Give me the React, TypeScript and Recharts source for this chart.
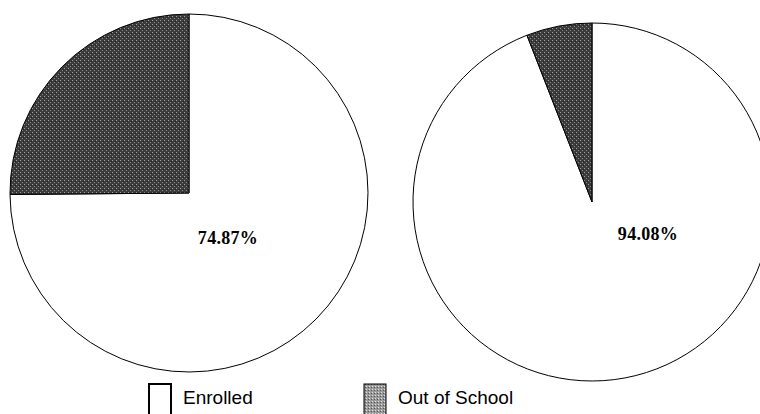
import React from 'react';
import { PieChart, Pie, Cell, Legend } from 'recharts';

const categories = ['Enrolled', 'Out of School'];
const leftValues = [74.87, 25.13];
const rightValues = [94.08, 5.92];

const leftData = categories.map((name, i) => ({ name, value: leftValues[i] }));
const rightData = categories.map((name, i) => ({ name, value: rightValues[i] }));

const fills = ['#ffffff', 'url(#grain)'];

const makeLabel = (dx: number, dy: number) => (props: any) => {
  if (props.index !== 0) return null;
  return (
    <text
      x={props.cx + dx}
      y={props.cy + dy}
      textAnchor="middle"
      dominantBaseline="central"
      fontFamily="'Liberation Serif', 'Times New Roman', serif"
      fontWeight="bold"
      fontSize={18}
      letterSpacing={0.3}
      fill="#000"
    >
      {props.value.toFixed(2)}%
    </text>
  );
};

const LegendBox = () => (
  <div style={{ position: 'relative', width: 760, height: 40, fontFamily: "'Liberation Sans', Arial, sans-serif", fontSize: 19 }}>
    {categories.map((name, i) => (
      <div key={name} style={{ position: 'absolute', left: i === 0 ? 148 : 363, top: 0, display: 'flex' }}>
        <svg width={26} height={40}>
          <rect x={1} y={1} width={22} height={38} fill={i === 0 ? '#fff' : 'url(#grainLight)'} stroke="#000" strokeWidth={i === 0 ? 2 : 1} />
        </svg>
        <span style={{ marginLeft: 9, marginTop: 4 }}>{name}</span>
      </div>
    ))}
  </div>
);

export default function App() {
  return (
    <div style={{ position: 'absolute', left: 0, top: 0, width: 760, height: 414, overflow: 'hidden', background: '#fff' }}>
      <PieChart width={760} height={414} margin={{ top: 0, right: 0, bottom: 0, left: 0 }}>
        <defs>
          <pattern id="grain" width={4} height={4} patternUnits="userSpaceOnUse">
            <rect width={4} height={4} fill="#3c3c3c" />
            <rect x={0} y={0} width={1} height={1} fill="#a0a0a0" />
            <rect x={2} y={2} width={1} height={1} fill="#8a8a8a" />
            <rect x={3} y={1} width={1} height={1} fill="#222" />
          </pattern>
          <pattern id="grainLight" width={3} height={3} patternUnits="userSpaceOnUse">
            <rect width={3} height={3} fill="#9a9a9a" />
            <rect x={0} y={0} width={1} height={1} fill="#e0e0e0" />
            <rect x={2} y={1} width={1} height={1} fill="#555" />
          </pattern>
        </defs>
        <Pie
          data={leftData}
          dataKey="value"
          nameKey="name"
          cx={189}
          cy={193}
          outerRadius={179}
          startAngle={90}
          endAngle={-270}
          stroke="#000"
          strokeWidth={1}
          labelLine={false}
          label={makeLabel(39, 45)}
          isAnimationActive={false}
        >
          {leftData.map((d, i) => (
            <Cell key={d.name} fill={fills[i]} />
          ))}
        </Pie>
        <Pie
          data={rightData}
          dataKey="value"
          nameKey="name"
          cx={592}
          cy={202}
          outerRadius={179}
          startAngle={90}
          endAngle={-270}
          stroke="#000"
          strokeWidth={1}
          labelLine={false}
          label={makeLabel(56, 32)}
          isAnimationActive={false}
        >
          {rightData.map((d, i) => (
            <Cell key={d.name} fill={fills[i]} />
          ))}
        </Pie>
        <Legend
          content={() => <LegendBox />}
          wrapperStyle={{ position: 'absolute', left: 0, top: 383, width: 760 }}
        />
      </PieChart>
    </div>
  );
}
